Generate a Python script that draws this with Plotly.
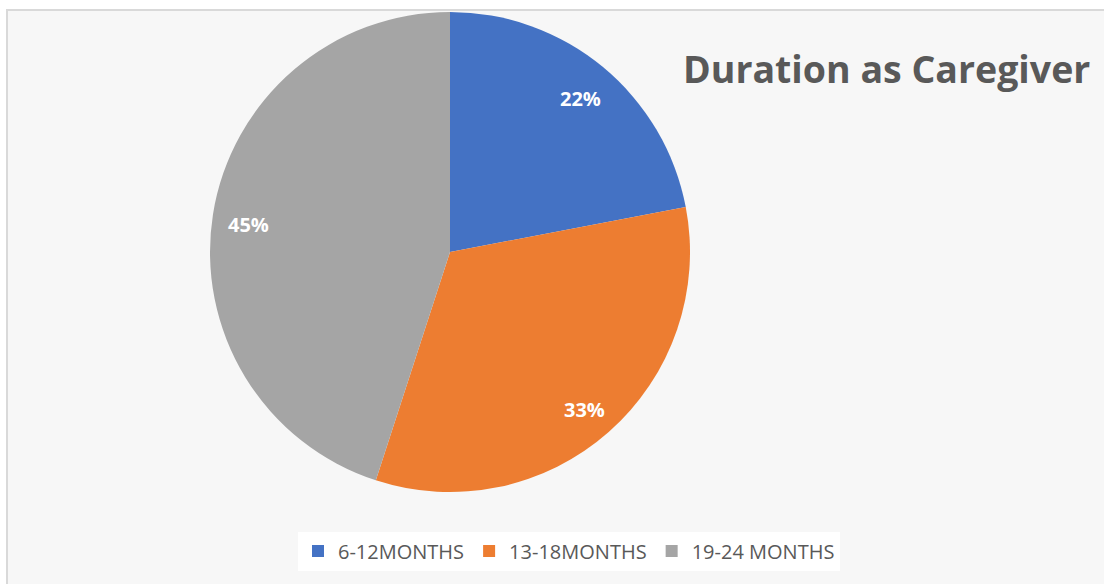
import math
import plotly.graph_objects as go

categories = ["6-12MONTHS", "13-18MONTHS", "19-24 MONTHS"]
values = [22, 33, 45]
colors = ["#4472C4", "#ED7D31", "#A5A5A5"]
title_text = "Duration as Caregiver"

W, H = 1104, 584
cx, cy, R = 450, 252, 240

fig = go.Figure()
fig.add_trace(go.Pie(
    labels=categories,
    values=values,
    sort=False,
    direction="clockwise",
    rotation=0,
    marker=dict(colors=colors, line=dict(width=0)),
    textinfo="none",
    hoverinfo="label+percent",
    domain=dict(x=[(cx - R) / W, (cx + R) / W], y=[1 - (cy + R) / H, 1 - (cy - R) / H]),
))

# percentage labels placed along slice mid-angles
total = sum(values)
cum = 0
annotations = []
for v in values:
    mid = (cum + v / 2) / total * 2 * math.pi
    cum += v
    r = 0.85 * R
    px = cx + r * math.sin(mid)
    py = cy - r * math.cos(mid) + 4
    annotations.append(dict(
        x=px / W, y=1 - py / H, xref="paper", yref="paper",
        text=f"<b>{round(v / total * 100)}%</b>", showarrow=False,
        font=dict(family="Open Sans", size=20, color="white"),
        xanchor="center", yanchor="middle",
    ))

annotations.append(dict(
    x=681 / W, y=1 - 68 / H, xref="paper", yref="paper",
    text=f"<b>{title_text}</b>", showarrow=False,
    font=dict(family="Open Sans", size=37.5, color="#595959"),
    xanchor="left", yanchor="middle",
))

fig.update_layout(
    width=W, height=H,
    margin=dict(l=0, r=0, t=0, b=0),
    paper_bgcolor="white",
    plot_bgcolor="white",
    showlegend=True,
    legend=dict(
        orientation="h", x=569 / W, y=1 - 551 / H, xanchor="center", yanchor="middle",
        bgcolor="white", font=dict(family="Open Sans", size=20, color="#595959"),
        itemwidth=30, traceorder="normal",
    ),
    annotations=annotations,
    shapes=[dict(
        type="rect", xref="paper", yref="paper",
        x0=7 / W, x1=1.02, y0=-0.02, y1=1 - 10 / H,
        line=dict(color="#d9d9d9", width=2), fillcolor="#f7f7f7", layer="below",
    )],
)

fig.write_html("out.html", config={"displayModeBar": False},
               post_script="document.body.style.margin='0px';")
